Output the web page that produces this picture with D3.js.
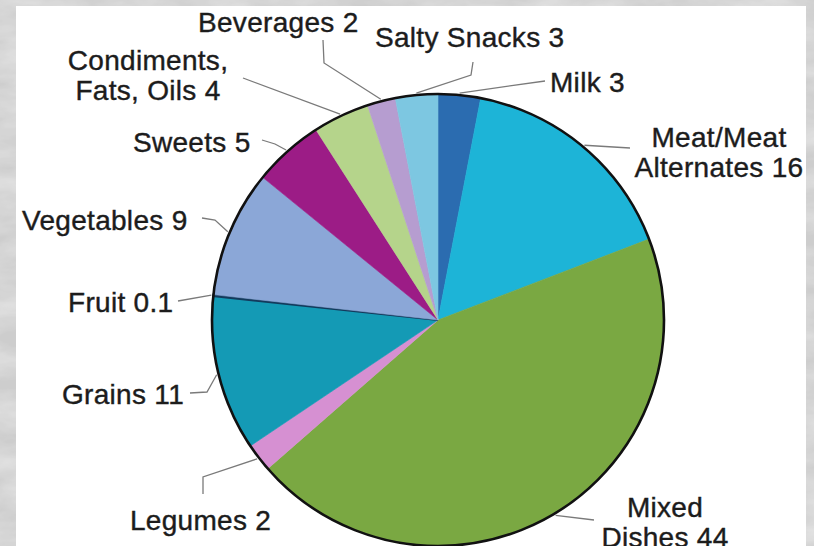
<!DOCTYPE html>
<html>
<head>
<meta charset="utf-8">
<script src="https://cdn.jsdelivr.net/npm/d3@7"></script>
<style>
  html, body { margin: 0; padding: 0; overflow: hidden; background: #d2d2d2; }
  svg { display: block; }
</style>
</head>
<body>
<svg id="chart" width="814" height="546"></svg>
<script>
// Share of intake by food group (percent), clockwise from 12 o'clock
const categories = ["Milk", "Meat/Meat\nAlternates", "Mixed\nDishes", "Legumes", "Grains", "Fruit",
                    "Vegetables", "Sweets", "Condiments,\nFats, Oils", "Beverages", "Salty Snacks"];
const values = [3, 16, 44, 2, 11, 0.1, 9, 5, 4, 2, 3];
const colors = ["#2b6cb0", "#1db4d7", "#7aa842", "#d690d2", "#149ab5", "#133a5c",
                "#8ba7d7", "#9c1c86", "#b5d48b", "#b69dd0", "#7dc7e1"];

// Label placement: text anchor, first baseline, and leader-line points before the pie edge
const labelX = [550, 719, 665, 130, 62, 68, 22, 133, 148, 198, 375];
const labelY = [92, 147, 517, 530, 404, 312, 230, 152, 70, 32, 47];
const labelAnchor = ["start", "middle", "middle", "start", "start", "start", "start", "start", "middle", "start", "start"];
const leaderPts = [
  [[545, 81]],
  [[630, 148]],
  [[594, 520]],
  [[203, 494], [203, 477]],
  [[190, 393], [207, 392]],
  [[178, 301]],
  [[202, 218], [215, 220]],
  [[262, 140], [275, 144]],
  [[243, 78]],
  [[323, 40], [324, 63]],
  [[473, 62], [471, 75]]
];

const W = 814, H = 546;
const cx = 438, cy = 320, R = 226;

const svg = d3.select("#chart");
const defs = svg.append("defs");

// Mottled grey backdrop
const f = defs.append("filter").attr("id", "mottle").attr("x", 0).attr("y", 0).attr("width", 1).attr("height", 1);
f.append("feTurbulence").attr("type", "fractalNoise").attr("baseFrequency", "0.015 0.04")
  .attr("numOctaves", 4).attr("seed", 7).attr("result", "n");
f.append("feColorMatrix").attr("type", "matrix")
  .attr("values", "0 0 0 0 1  0 0 0 0 1  0 0 0 0 1  0.9 0 0 0 -0.25");

svg.append("rect").attr("width", W).attr("height", H).attr("fill", "#cdcdcd");
svg.append("rect").attr("width", W).attr("height", H).attr("filter", "url(#mottle)").attr("opacity", 0.8);

// White panel
svg.append("rect").attr("x", 16).attr("y", 6).attr("width", 790).attr("height", H)
  .attr("fill", "#ffffff");

const data = categories.map((c, i) => ({ name: c, value: values[i], color: colors[i], i }));

const pie = d3.pie().sort(null).value(d => d.value);
const arcs = pie(data);
const arc = d3.arc().innerRadius(0).outerRadius(R);
const edge = d3.arc().innerRadius(R + 2).outerRadius(R + 2);

const g = svg.append("g").attr("transform", `translate(${cx},${cy})`);

g.selectAll("path.slice").data(arcs).join("path")
  .attr("class", "slice")
  .attr("d", arc)
  .attr("fill", d => d.data.color)
  .attr("stroke", d => d.data.color)
  .attr("stroke-width", d => d.data.value < 1 ? 2.2 : 0.6);

// Outer rim
g.append("circle").attr("r", R).attr("fill", "none").attr("stroke", "#111").attr("stroke-width", 2.6);

// Leader lines
const line = d3.line();
svg.append("g").selectAll("path.leader").data(arcs).join("path")
  .attr("class", "leader")
  .attr("d", d => {
    const [ex, ey] = edge.centroid(d);
    return line(leaderPts[d.data.i].concat([[cx + ex, cy + ey]]));
  })
  .attr("fill", "none")
  .attr("stroke", "#7a7a7a")
  .attr("stroke-width", 1.3);

// Labels
const fmt = v => (v < 1 ? String(v) : d3.format("d")(v));
const labels = svg.append("g")
  .attr("font-family", "'Liberation Sans', Arial, Helvetica, sans-serif")
  .attr("font-size", 28)
  .attr("letter-spacing", 0.3)
  .attr("fill", "#1c1c1c")
  .attr("stroke", "#1c1c1c")
  .attr("stroke-width", 0.4);

labels.selectAll("text").data(data).join("text")
  .attr("x", d => labelX[d.i])
  .attr("y", d => labelY[d.i])
  .attr("text-anchor", d => labelAnchor[d.i])
  .each(function (d) {
    const lines = (d.name + " " + fmt(d.value)).split("\n");
    const t = d3.select(this);
    lines.forEach((ln, k) => {
      t.append("tspan").attr("x", labelX[d.i]).attr("dy", k === 0 ? 0 : 29.5).text(ln);
    });
  });
</script>
</body>
</html>
